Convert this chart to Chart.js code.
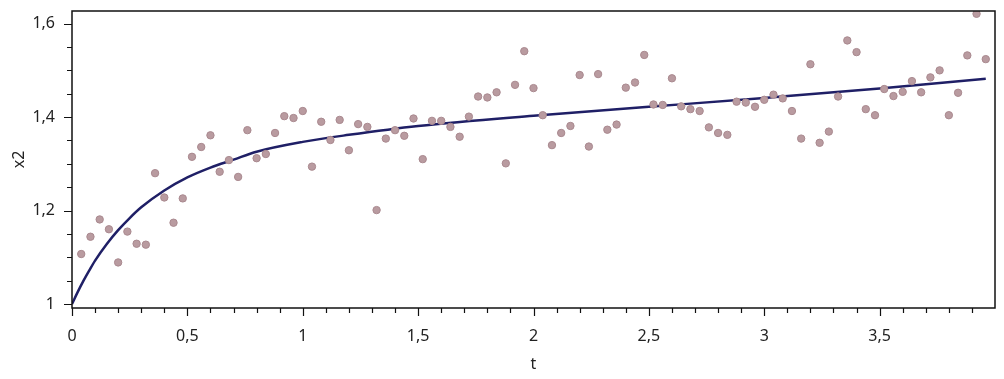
<!DOCTYPE html>
<html>
<head>
<meta charset="utf-8">
<script src="https://cdn.jsdelivr.net/npm/chart.js@4"></script>
<style>
  html, body { margin: 0; padding: 0; background: #fff; }
  #wrap { width: 1004px; height: 379px; }
</style>
</head>
<body>
<div id="wrap"><canvas id="c" width="1004" height="379"></canvas></div>
<script>
// Measured data points (t, x2)
const tValues = [0.04,0.08,0.12,0.16,0.20,0.24,0.28,0.32,0.36,0.40,0.44,0.48,0.52,0.56,0.60,0.64,0.68,0.72,0.76,0.80,
  0.84,0.88,0.92,0.96,1.00,1.04,1.08,1.12,1.16,1.20,1.24,1.28,1.32,1.36,1.40,1.44,1.48,1.52,1.56,1.60,
  1.64,1.68,1.72,1.76,1.80,1.84,1.88,1.92,1.96,2.00,2.04,2.08,2.12,2.16,2.20,2.24,2.28,2.32,2.36,2.40,
  2.44,2.48,2.52,2.56,2.60,2.64,2.68,2.72,2.76,2.80,2.84,2.88,2.92,2.96,3.00,3.04,3.08,3.12,3.16,3.20,
  3.24,3.28,3.32,3.36,3.40,3.44,3.48,3.52,3.56,3.60,3.64,3.68,3.72,3.76,3.80,3.84,3.88,3.92,3.96];
const x2Values = [1.107,1.144,1.181,1.160,1.089,1.155,1.129,1.127,1.280,1.228,1.174,1.226,1.315,1.336,1.361,1.283,1.308,1.272,1.372,1.312,
  1.321,1.366,1.402,1.398,1.413,1.294,1.390,1.351,1.394,1.329,1.385,1.379,1.201,1.354,1.372,1.360,1.397,1.310,1.392,1.392,
  1.379,1.358,1.401,1.444,1.442,1.453,1.301,1.469,1.541,1.462,1.404,1.340,1.366,1.381,1.490,1.337,1.492,1.373,1.384,1.463,
  1.474,1.533,1.427,1.426,1.483,1.423,1.417,1.413,1.378,1.366,1.362,1.433,1.431,1.422,1.437,1.448,1.440,1.413,1.354,1.513,
  1.345,1.369,1.444,1.564,1.539,1.417,1.404,1.460,1.445,1.454,1.477,1.453,1.485,1.500,1.404,1.452,1.532,1.621,1.524];

// Fitted curve
const curveT = [0,0.025,0.05,0.075,0.1,0.15,0.2,0.25,0.3,0.4,0.5,0.6,0.7,0.8,1.0,1.2,1.5,2.0,2.5,3.0,3.5,3.96];
const curveX2 = [1.000,1.026,1.050,1.072,1.093,1.128,1.158,1.184,1.207,1.243,1.271,1.292,1.309,1.326,1.347,1.362,1.381,1.403,1.422,1.441,1.461,1.482];

// Tick positions (minor + major) and labelled ticks
const xTicks = [0,0.1,0.2,0.3,0.4,0.5,0.6,0.7,0.8,0.9,1.0,1.1,1.2,1.3,1.4,1.5,1.6,1.7,1.8,1.9,
  2.0,2.1,2.2,2.3,2.4,2.5,2.6,2.7,2.8,2.9,3.0,3.1,3.2,3.3,3.4,3.5,3.6,3.7,3.8,3.9];
const xTickLabels = { 0: '0', 0.5: '0,5', 1: '1', 1.5: '1,5', 2: '2', 2.5: '2,5', 3: '3', 3.5: '3,5' };
const yTicks = [1.0,1.05,1.1,1.15,1.2,1.25,1.3,1.35,1.4,1.45,1.5,1.55,1.6];
const yTickLabels = { 1: '1', 1.2: '1,2', 1.4: '1,4', 1.6: '1,6' };

const xMin = 0, xMax = 4.0;
const yMin = 0.9915, yMax = 1.627;

const FONT = "'Noto Sans', 'DejaVu Sans', sans-serif";
const TEXT = '#222';

function labelFor(map, v) {
  for (const k in map) { if (Math.abs(parseFloat(k) - v) < 1e-6) return map[k]; }
  return '';
}

const framePlugin = {
  id: 'frameTicks',
  afterDraw(chart) {
    const ctx = chart.ctx;
    const a = chart.chartArea;
    const xs = chart.scales.x, ys = chart.scales.y;
    ctx.save();
    ctx.strokeStyle = '#111';
    ctx.lineWidth = 1.5;
    ctx.strokeRect(a.left, a.top, a.right - a.left, a.bottom - a.top);
    ctx.lineWidth = 1.2;
    ctx.beginPath();
    xs.ticks.forEach(t => {
      const px = Math.round(xs.getPixelForValue(t.value)) + 0.5;
      const len = labelFor(xTickLabels, t.value) ? 8 : 5;
      ctx.moveTo(px, a.bottom);
      ctx.lineTo(px, a.bottom + len);
    });
    ys.ticks.forEach(t => {
      const py = Math.round(ys.getPixelForValue(t.value)) + 0.5;
      const len = labelFor(yTickLabels, t.value) ? 8 : 5;
      ctx.moveTo(a.left, py);
      ctx.lineTo(a.left - len, py);
    });
    ctx.stroke();
    ctx.restore();
  }
};

new Chart(document.getElementById('c'), {
  type: 'scatter',
  data: {
    datasets: [
      {
        label: 'data',
        data: tValues.map((t, i) => ({ x: t, y: x2Values[i] })),
        backgroundColor: '#b99ba0',
        borderColor: '#a9898f',
        borderWidth: 1,
        pointRadius: 3.7,
        pointHoverRadius: 3.7
      },
      {
        label: 'fit',
        data: curveT.map((t, i) => ({ x: t, y: curveX2[i] })),
        showLine: true,
        borderColor: '#1f1f66',
        borderWidth: 2.5,
        pointRadius: 0,
        cubicInterpolationMode: 'monotone',
        fill: false
      }
    ]
  },
  options: {
    responsive: false,
    animation: false,
    events: [],
    layout: { padding: { left: 0, right: 9, top: 11, bottom: 0 } },
    plugins: { legend: { display: false }, tooltip: { enabled: false } },
    scales: {
      x: {
        type: 'linear',
        min: xMin, max: xMax,
        afterBuildTicks(scale) { scale.ticks = xTicks.map(v => ({ value: v })); },
        afterFit(scale) { scale.height = 71; scale.paddingLeft = 0; scale.paddingRight = 0; },
        grid: { display: false, drawTicks: false, tickLength: 0 },
        border: { display: false },
        ticks: {
          autoSkip: false,
          maxRotation: 0,
          padding: 19,
          color: TEXT,
          font: { family: FONT, size: 16 },
          callback: (v) => labelFor(xTickLabels, v)
        },
        title: {
          display: true, text: 't', color: TEXT,
          font: { family: FONT, size: 16 },
          padding: { top: 0, bottom: 5 }
        }
      },
      y: {
        type: 'linear',
        min: yMin, max: yMax,
        afterBuildTicks(scale) { scale.ticks = yTicks.map(v => ({ value: v })); },
        afterFit(scale) { scale.width = 72; scale.paddingTop = 0; scale.paddingBottom = 0; },
        grid: { display: false, drawTicks: false, tickLength: 0 },
        border: { display: false },
        ticks: {
          autoSkip: false,
          padding: 17,
          color: TEXT,
          font: { family: FONT, size: 16 },
          callback: (v) => labelFor(yTickLabels, v)
        },
        title: {
          display: true, text: 'x2', color: TEXT,
          font: { family: FONT, size: 16 },
          padding: { top: 10, bottom: 0 }
        }
      }
    }
  },
  plugins: [framePlugin]
});
</script>
</body>
</html>
